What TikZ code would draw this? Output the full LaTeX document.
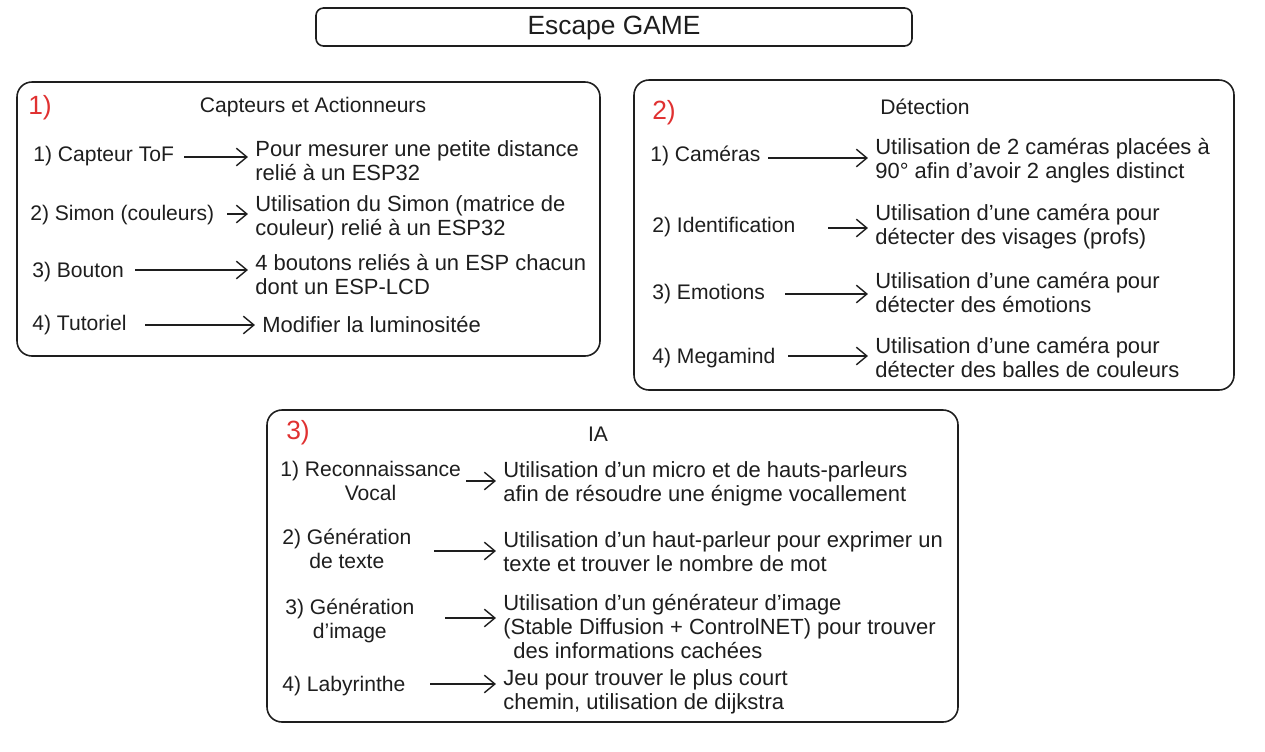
\documentclass[tikz,border=0pt]{standalone}
\usepackage{fontspec}
\setmainfont{Liberation Sans}
\usetikzlibrary{arrows.meta}
\definecolor{ink}{HTML}{1E1E1E}
\definecolor{numred}{HTML}{E03131}

\begin{document}
\begin{tikzpicture}[x=0.02cm,y=-0.02cm,
	panel/.style={draw=ink,line width=0.9pt,rounded corners=0.3cm},
	item/.style={anchor=west,inner sep=0pt,text=ink,font=\fontsize{12}{13.66}\selectfont},
	desc/.style={item,align=left,font=\fontsize{12.5}{13.66}\selectfont},
	twoline/.style={item,align=center},
	head/.style={inner sep=0pt,text=ink,font=\fontsize{12}{14}\selectfont},
	num/.style={inner sep=0pt,text=numred,font=\fontsize{15}{17}\selectfont},
	arr/.style={draw=ink,line width=0.85pt,shorten >=4pt,-{Straight Barb[length=6pt,width=10pt,line width=0.8pt]}}]
	\useasboundingbox (0,0) rectangle (1265,751);

	% title
	\draw[panel,rounded corners=0.15cm] (316,8) rectangle (912,46);
	\node[inner sep=0pt,text=ink,font=\fontsize{15}{17}\selectfont] (title) at (614,28) {Escape GAME};

	% 1) capteurs et actionneurs
	\draw[panel] (17,82) rectangle (600,356);
	\node[num] (n1) at (40,108) {1)};
	\node[head] (h1) at (313,107) {Capteurs et Actionneurs};
	\node[item] (tof) at (33,156) {1) Capteur ToF};
	\node[item] (simon) at (30,215) {2) Simon (couleurs)};
	\node[item] (bouton) at (32,272) {3) Bouton};
	\node[item] (tuto) at (32,325) {4) Tutoriel};
	\node[desc] (tofD) at (255,161) {Pour mesurer une petite distance\\reli\'e \`a un ESP32};
	\node[desc] (simonD) at (255,218) {Utilisation du Simon (matrice de\\couleur) reli\'e \`a un ESP32};
	\node[desc] (boutonD) at (255,275) {4 boutons reli\'es \`a un ESP chacun\\dont un ESP-LCD};
	\node[desc] (tutoD) at (262,325) {Modifier la luminosit\'ee};
	\coordinate (s1) at (184,157);
	\coordinate (s2) at (227,214);
	\coordinate (s3) at (135,270);
	\coordinate (s4) at (145,325);
	\draw[arr] (s1) -- (s1 -| tofD.west);
	\draw[arr] (s2) -- (s2 -| simonD.west);
	\draw[arr] (s3) -- (s3 -| boutonD.west);
	\draw[arr] (s4) -- (s4 -| tutoD.west);

	% 2) detection
	\draw[panel] (634,80) rectangle (1234,390);
	\node[num] (n2) at (664,113) {2)};
	\node[head] (h2) at (925,107) {D\'etection};
	\node[item] (cam) at (650,156) {1) Cam\'eras};
	\node[item] (ident) at (652,227) {2) Identification};
	\node[item] (emo) at (652,294) {3) Emotions};
	\node[item] (mega) at (652,358) {4) Megamind};
	\node[desc] (camD) at (875,161) {Utilisation de 2 cam\'eras plac\'ees \`a\\90° afin d'avoir 2 angles distinct};
	\node[desc] (identD) at (875,227) {Utilisation d'une cam\'era pour\\d\'etecter des visages (profs)};
	\node[desc] (emoD) at (875,293) {Utilisation d'une cam\'era pour\\d\'etecter des \'emotions};
	\node[desc] (megaD) at (875,358) {Utilisation d'une cam\'era pour\\d\'etecter des balles de couleurs};
	\coordinate (c1) at (768,158);
	\coordinate (c2) at (828,228);
	\coordinate (c3) at (785,294);
	\coordinate (c4) at (788,356);
	\draw[arr] (c1) -- (c1 -| camD.west);
	\draw[arr] (c2) -- (c2 -| identD.west);
	\draw[arr] (c3) -- (c3 -| emoD.west);
	\draw[arr] (c4) -- (c4 -| megaD.west);

	% 3) IA
	\draw[panel] (267,410) rectangle (958,722);
	\node[num] (n3) at (298,433) {3)};
	\node[head] (h3) at (598,434) {IA};
	\node[twoline] (voc) at (280,481) {1) Reconnaissance\\Vocal};
	\node[twoline] (gtxt) at (282,549) {2) G\'en\'eration\\de texte};
	\node[twoline] (gimg) at (285,621) {3) G\'en\'eration\\d'image};
	\node[item] (laby) at (282,686) {4) Labyrinthe};
	\node[desc] (vocD) at (503,484) {Utilisation d'un micro et de hauts-parleurs\\afin de r\'esoudre une \'enigme vocallement};
	\node[desc] (gtxtD) at (503,552) {Utilisation d'un haut-parleur pour exprimer un\\texte et trouver le nombre de mot};
	\node[desc] (gimgD) at (503,627) {Utilisation d'un g\'en\'erateur d'image\\(Stable Diffusion + ControlNET) pour trouver\\\hspace{0.2cm}des informations cach\'ees};
	\node[desc] (labyD) at (503,692) {Jeu pour trouver le plus court\\chemin, utilisation de dijkstra};
	\coordinate (i1) at (466,481);
	\coordinate (i2) at (434,551);
	\coordinate (i3) at (445,618);
	\coordinate (i4) at (430,684);
	\draw[arr] (i1) -- (i1 -| vocD.west);
	\draw[arr] (i2) -- (i2 -| gtxtD.west);
	\draw[arr] (i3) -- (i3 -| gimgD.west);
	\draw[arr] (i4) -- (i4 -| labyD.west);
\end{tikzpicture}
\end{document}
